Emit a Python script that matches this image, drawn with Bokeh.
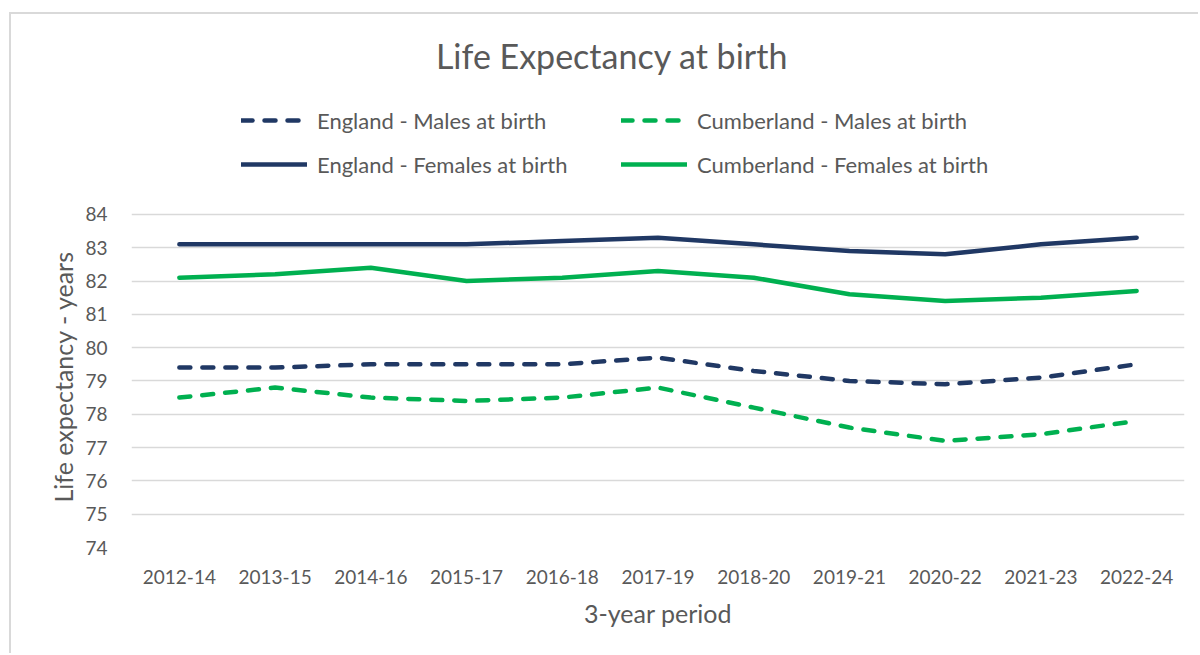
from bokeh.plotting import figure
from bokeh.models import FactorRange, Range1d, FixedTicker, Legend, LegendItem, Label, Title
from bokeh.embed import file_html
from bokeh.resources import INLINE

periods = ["2012-14", "2013-15", "2014-16", "2015-17", "2016-18", "2017-19",
           "2018-20", "2019-21", "2020-22", "2021-23", "2022-24"]
england_males = [79.4, 79.4, 79.5, 79.5, 79.5, 79.7, 79.3, 79.0, 78.9, 79.1, 79.5]
cumberland_males = [78.5, 78.8, 78.5, 78.4, 78.5, 78.8, 78.2, 77.6, 77.2, 77.4, 77.8]
england_females = [83.1, 83.1, 83.1, 83.1, 83.2, 83.3, 83.1, 82.9, 82.8, 83.1, 83.3]
cumberland_females = [82.1, 82.2, 82.4, 82.0, 82.1, 82.3, 82.1, 81.6, 81.4, 81.5, 81.7]
y_ticks = list(range(74, 85))

NAVY = "#203864"
GREEN = "#00B050"
TEXT = "#595959"
FONT = "Lato"

# the frame also holds the title and legend area above the 84 gridline
p = figure(x_range=FactorRange(*periods, range_padding=0), y_range=Range1d(74, 90),
           width=1189, height=641, output_backend="svg", toolbar_location=None,
           min_border_left=120, min_border_right=16, min_border_top=0, min_border_bottom=108)
p.styles = {"margin-left": "9px", "margin-top": "12px",
            "border-left": "2px solid #d9d9d9", "border-top": "2px solid #d9d9d9"}
p.outline_line_color = None
p.background_fill_color = "white"
p.border_fill_color = "white"
p.title.visible = False

p.xgrid.grid_line_color = None
p.ygrid.grid_line_color = "#d9d9d9"
p.ygrid.grid_line_width = 1.5
p.yaxis.ticker = FixedTicker(ticks=y_ticks)

for ax in (p.xaxis[0], p.yaxis[0]):
    ax.axis_line_color = None
    ax.major_tick_line_color = None
    ax.minor_tick_line_color = None
    ax.major_tick_out = 0
    ax.major_tick_in = 0
    ax.major_label_text_color = TEXT
    ax.major_label_text_font = FONT
    ax.major_label_text_font_size = "19px"
    ax.axis_label_text_color = TEXT
    ax.axis_label_text_font = FONT
    ax.axis_label_text_font_size = "25px"
    ax.axis_label_text_font_style = "normal"

p.xaxis.axis_label = "3-year period"
p.xaxis.major_label_standoff = 22
p.xaxis.axis_label_standoff = 11
p.yaxis.major_label_standoff = 24

ytitle = Title(text="Life expectancy - years", align="left", offset=45,
               vertical_align="bottom", text_font=FONT, text_font_size="25px",
               text_font_style="normal", text_color=TEXT, standoff=10)
p.add_layout(ytitle, "left")

dash = "11 12"
r_em = p.line(periods, england_males, line_color=NAVY, line_width=4.5, line_dash=dash,
              line_cap="round", line_join="round")
r_cm = p.line(periods, cumberland_males, line_color=GREEN, line_width=4.5, line_dash=dash,
              line_cap="round", line_join="round")
r_ef = p.line(periods, england_females, line_color=NAVY, line_width=4.5,
              line_cap="round", line_join="round")
r_cf = p.line(periods, cumberland_females, line_color=GREEN, line_width=4.5,
              line_cap="round", line_join="round")

legend = Legend(items=[
    LegendItem(label="England - Males at birth", renderers=[r_em]),
    LegendItem(label="Cumberland - Males at birth", renderers=[r_cm]),
    LegendItem(label="England - Females at birth", renderers=[r_ef]),
    LegendItem(label="Cumberland - Females at birth", renderers=[r_cf]),
], orientation="horizontal", ncols=2, location=(110, 361))
legend.glyph_width = 66
legend.glyph_height = 20
legend.label_standoff = 10
legend.label_width = 304
legend.label_height = 44
legend.spacing = 0
legend.padding = 0
legend.margin = 0
legend.border_line_color = None
legend.background_fill_alpha = 0
legend.label_text_font = FONT
legend.label_text_font_size = "22px"
legend.label_text_color = TEXT
p.add_layout(legend, "center")

title = Label(x=5.02, y=88.78, text="Life Expectancy at birth", text_align="center",
              text_baseline="middle", text_font=FONT, text_font_size="34px", text_color=TEXT)
p.add_layout(title)

open("out.html", "w").write(file_html(p, INLINE))
